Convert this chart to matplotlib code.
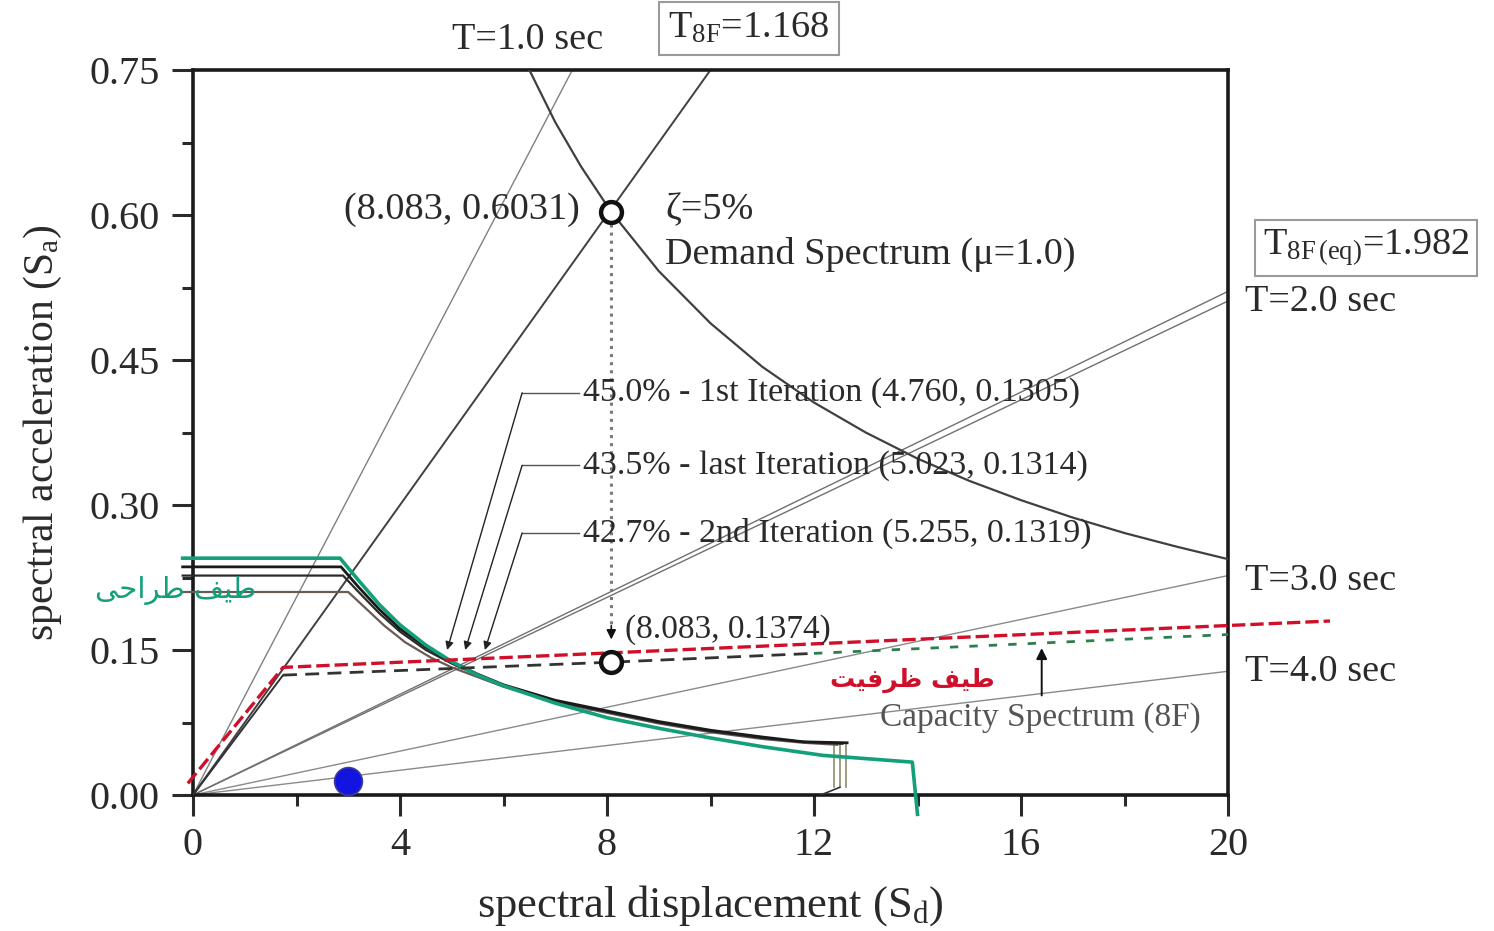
import matplotlib
matplotlib.use('Agg')
import matplotlib.pyplot as plt

plt.rcParams['font.family'] = ['Liberation Serif', 'DejaVu Sans']
plt.rcParams['mathtext.fontset'] = 'custom'
plt.rcParams['mathtext.rm'] = 'Liberation Serif'
plt.rcParams['mathtext.it'] = 'Liberation Serif:italic'

# ---------------- data ----------------
# constant-period radial lines: end points where they leave the frame
period_names = ['T=1.0', 'T8F=1.168', 'T8F(eq)=1.982', 'T=2.0', 'T=3.0', 'T=4.0']
period_end_sd = [7.33, 10.0, 20.0, 20.0, 20.0, 20.0]
period_end_sa = [0.75, 0.75, 0.521, 0.511, 0.227, 0.128]

# 5 % elastic demand spectrum (mu = 1.0)
demand_sd = [6.5, 7.0, 7.5, 8.083, 9.0, 10.0, 11.0, 12.0, 13.0, 14.0, 15.0, 16.0, 17.0, 18.0, 19.0, 20.0]
demand_sa = [0.750, 0.696, 0.650, 0.6031, 0.542, 0.488, 0.443, 0.406, 0.375, 0.348, 0.325, 0.305, 0.287, 0.271, 0.257, 0.244]

# design (reduced demand) spectrum, green
design_sd = [-0.2, 2.84, 3.2, 3.6, 4.0, 4.5, 5.0, 5.5, 6.0, 7.0, 8.0, 9.0, 10.0, 11.0, 12.17, 13.9, 14.0]
design_sa = [0.245, 0.245, 0.222, 0.197, 0.176, 0.155, 0.138, 0.124, 0.113, 0.095, 0.080, 0.069, 0.059, 0.050, 0.041, 0.034, -0.02]

# reduced demand spectra (iterations), black
red1_sd = [-0.2, 2.86, 3.2, 3.6, 4.0, 4.5, 5.0, 5.5, 6.0, 7.0, 8.0, 9.0, 10.0, 11.0, 11.8, 12.64]
red1_sa = [0.236, 0.236, 0.215, 0.192, 0.172, 0.153, 0.138, 0.125, 0.114, 0.098, 0.087, 0.076, 0.067, 0.060, 0.055, 0.054]
red2_sd = [-0.2, 2.90, 3.2, 3.6, 4.0, 4.5, 5.0, 5.5, 6.0, 7.0, 8.0, 9.0, 10.0, 11.0, 11.8, 12.55]
red2_sa = [0.227, 0.227, 0.210, 0.188, 0.169, 0.150, 0.136, 0.124, 0.113, 0.097, 0.086, 0.075, 0.066, 0.059, 0.055, 0.053]
red3_sd = [-0.2, 3.00, 3.3, 3.7, 4.1, 4.6, 5.0, 5.5, 6.0, 7.0, 8.0, 9.0, 10.0, 11.0, 11.8, 12.45]
red3_sa = [0.210, 0.210, 0.195, 0.175, 0.158, 0.142, 0.132, 0.122, 0.112, 0.096, 0.085, 0.074, 0.065, 0.058, 0.054, 0.052]
drop_sd = [12.38, 12.50, 12.62]
drop_top_sa = [0.052, 0.053, 0.054]
drop_bot_sa = [0.008, 0.008, 0.008]

# capacity spectra
cap_red_sd = [-0.1, 1.74, 21.97]
cap_red_sa = [0.012, 0.132, 0.180]
cap_blk_sd = [0.0, 1.74, 8.083, 12.0]
cap_blk_sa = [0.0, 0.124, 0.1374, 0.1465]
cap_grn_sd = [12.0, 20.0]
cap_grn_sa = [0.1465, 0.166]

# performance points
pp_demand = (8.083, 0.6031)
pp_capacity = (8.083, 0.1374)
blue_pt = (3.0, 0.015)

iter_labels = ['45.0% - 1st Iteration (4.760, 0.1305)',
               '43.5% - last Iteration (5.023, 0.1314)',
               '42.7% - 2nd Iteration (5.255, 0.1319)']
iter_text_sa = [0.416, 0.341, 0.271]
iter_tip_sd = [4.91, 5.26, 5.64]
iter_tip_sa = [0.150, 0.150, 0.150]

xticks = [0, 4, 8, 12, 16, 20]
yticks = [0.0, 0.15, 0.30, 0.45, 0.60, 0.75]
ytick_labels = ['0.00', '0.15', '0.30', '0.45', '0.60', '0.75']

# ---------------- figure ----------------
W, H = 1494, 931
fig = plt.figure(figsize=(W / 100, H / 100), dpi=100)
ax = fig.add_axes([193 / W, 1 - 795 / H, 1035 / W, 725 / H])
ax.set_xlim(0, 20)
ax.set_ylim(0, 0.75)

TXT = '#2a2a2a'
GREEN = '#12a07a'
RED = '#d0102a'

# radial period lines
p_styles = [dict(color='#808080', lw=1.0), dict(color='#404040', lw=1.4),
            dict(color='#707070', lw=1.0), dict(color='#707070', lw=1.0),
            dict(color='#8a8a8a', lw=1.0), dict(color='#8a8a8a', lw=1.0)]
for sd, sa, st in zip(period_end_sd, period_end_sa, p_styles):
    ax.plot([0, sd], [0, sa], zorder=2, **st)

# demand spectrum
ax.plot(demand_sd, demand_sa, color='#404040', lw=1.6, zorder=3)

# reduced demand spectra
for sd, sa, c, lw in [(red3_sd, red3_sa, '#6a5a55', 1.6), (red2_sd, red2_sa, '#2a2a2a', 1.6),
                      (red1_sd, red1_sa, '#1a1a1a', 2.0)]:
    ax.plot(sd, sa, color=c, lw=lw, zorder=4, clip_on=False)
for x, yt, yb in zip(drop_sd, drop_top_sa, drop_bot_sa):
    ax.plot([x, x], [yt, yb], color='#8c8a6a', lw=1.2, zorder=3)
ax.plot([drop_sd[1], drop_sd[0] - 0.25], [drop_bot_sa[1], 0.0], color='#333333', lw=1.2, zorder=3)
ax.plot(design_sd, design_sa, color=GREEN, lw=2.6, zorder=5, clip_on=False)

# capacity spectra
ax.plot(cap_blk_sd[:2], cap_blk_sa[:2], color='#333333', lw=1.4, zorder=5)
ax.plot(cap_blk_sd[1:], cap_blk_sa[1:], color='#333333', lw=2.0, ls=(0, (5, 3)), zorder=5)
ax.plot(cap_grn_sd, cap_grn_sa, color='#2e7d4f', lw=2.0, ls=(0, (3, 4)), zorder=5)
ax.plot(cap_red_sd, cap_red_sa, color=RED, lw=2.4, ls=(0, (4, 1.5)), zorder=6, clip_on=False)

# vertical arrow from demand to capacity point
ax.plot([pp_demand[0]] * 2, [pp_demand[1] - 0.012, 0.175], color='#7a7a7a', lw=2.2, ls=':', zorder=4)
ax.annotate('', xy=(pp_demand[0], 0.158), xytext=(pp_demand[0], 0.178),
            arrowprops=dict(arrowstyle='-|>', color='#111111', lw=1.2, mutation_scale=14), zorder=6)

# performance point markers
for p in (pp_demand, pp_capacity):
    ax.plot(*p, 'o', ms=15, mfc='white', mec='#111111', mew=3.2, zorder=8)
ax.plot(*blue_pt, 'o', ms=20, mfc='#1414e0', mec='#3a3aa0', mew=1.2, zorder=8, clip_on=False)

# iteration leaders
for lab, ty, tx, tyy in zip(iter_labels, iter_text_sa, iter_tip_sd, iter_tip_sa):
    ax.plot([7.45, 6.36], [ty, ty], color='#555555', lw=1.0, zorder=4)
    ax.annotate('', xy=(tx, tyy), xytext=(6.36, ty),
                arrowprops=dict(arrowstyle='-|>', color='#222222', lw=1.0, mutation_scale=12,
                                shrinkA=0, shrinkB=0), zorder=6)
    ax.text(7.54, ty, lab, fontsize=24.5, color=TXT, ha='left', va='center', zorder=9)

# capacity label arrow
ax.annotate('', xy=(16.4, 0.152), xytext=(16.4, 0.103),
            arrowprops=dict(arrowstyle='-|>', color='#111111', lw=1.4, mutation_scale=16,
                            shrinkA=0, shrinkB=0), zorder=6)

# texts
kw = dict(color=TXT, clip_on=False, zorder=9)
FS = 27.5
ax.text(6.47, 0.781, 'T=1.0 sec', fontsize=FS, ha='center', va='center', **kw)
ax.text(10.74, 0.793, r'T$_{\mathrm{8F}}$=1.168', fontsize=FS, ha='center', va='center',
        bbox=dict(boxstyle='square,pad=0.25', fc='white', ec='#9a9a9a', lw=1.5), **kw)
ax.text(22.67, 0.566, r'T$_{\mathrm{8F\,(eq)}}$=1.982', fontsize=FS, ha='center', va='center',
        bbox=dict(boxstyle='square,pad=0.2', fc='white', ec='#9a9a9a', lw=1.5), **kw)
ax.text(20.33, 0.510, 'T=2.0 sec', fontsize=FS, ha='left', va='center', **kw)
ax.text(20.33, 0.222, 'T=3.0 sec', fontsize=FS, ha='left', va='center', **kw)
ax.text(20.33, 0.127, 'T=4.0 sec', fontsize=FS, ha='left', va='center', **kw)
ax.text(7.48, 0.605, '(8.083, 0.6031)', fontsize=FS, ha='right', va='center', **kw)
ax.text(9.12, 0.605, 'ζ=5%', fontsize=FS, ha='left', va='center', **kw)
ax.text(9.12, 0.559, 'Demand Spectrum (μ=1.0)', fontsize=FS, ha='left', va='center', **kw)
ax.text(8.35, 0.171, '(8.083, 0.1374)', fontsize=24, ha='left', va='center', **kw)
ax.text(16.37, 0.080, 'Capacity Spectrum (8F)', fontsize=24, ha='center', va='center',
        color='#555555', clip_on=False, zorder=9)
# Persian labels (presentation forms, visual order)
ax.text(13.9, 0.118, '\uFE96\uFEF4\uFED3\uFEAE\uFEC7 \uFED2\uFEF4\uFEC3', fontsize=18,
        family=['DejaVu Sans'], fontweight='bold', color=RED, ha='center', va='center',
        clip_on=False, zorder=9)
ax.text(-0.33, 0.212, '\uFEF0\uFEA3\uFE8D\uFEAE\uFEC3 \uFED2\uFEF4\uFEC3', fontsize=21,
        family=['DejaVu Sans'], color=GREEN, ha='center', va='center', clip_on=False, zorder=9)

# axes styling
ax.set_xticks(xticks)
ax.set_xticks([2, 6, 10, 14, 18], minor=True)
ax.set_yticks(yticks)
ax.set_yticklabels(ytick_labels)
ax.set_yticks([0.075, 0.225, 0.375, 0.525, 0.675], minor=True)
ax.tick_params(which='major', direction='out', length=15, width=2.2, labelsize=29,
               colors=TXT, pad=8)
ax.tick_params(axis='y', which='major', pad=9)
ax.tick_params(which='minor', direction='out', length=8, width=2.2, colors=TXT)
for s in ax.spines.values():
    s.set_linewidth(2.6)
    s.set_color('#1a1a1a')

ax.set_xlabel(r'spectral displacement (S$_{\mathrm{d}}$)', fontsize=32, color=TXT)
ax.set_ylabel(r'spectral acceleration (S$_{\mathrm{a}}$)', fontsize=30, color=TXT)
ax.xaxis.set_label_coords(0.5, -0.122)
ax.yaxis.set_label_coords(-0.125, 0.5)

fig.savefig('out.png', dpi=100)
